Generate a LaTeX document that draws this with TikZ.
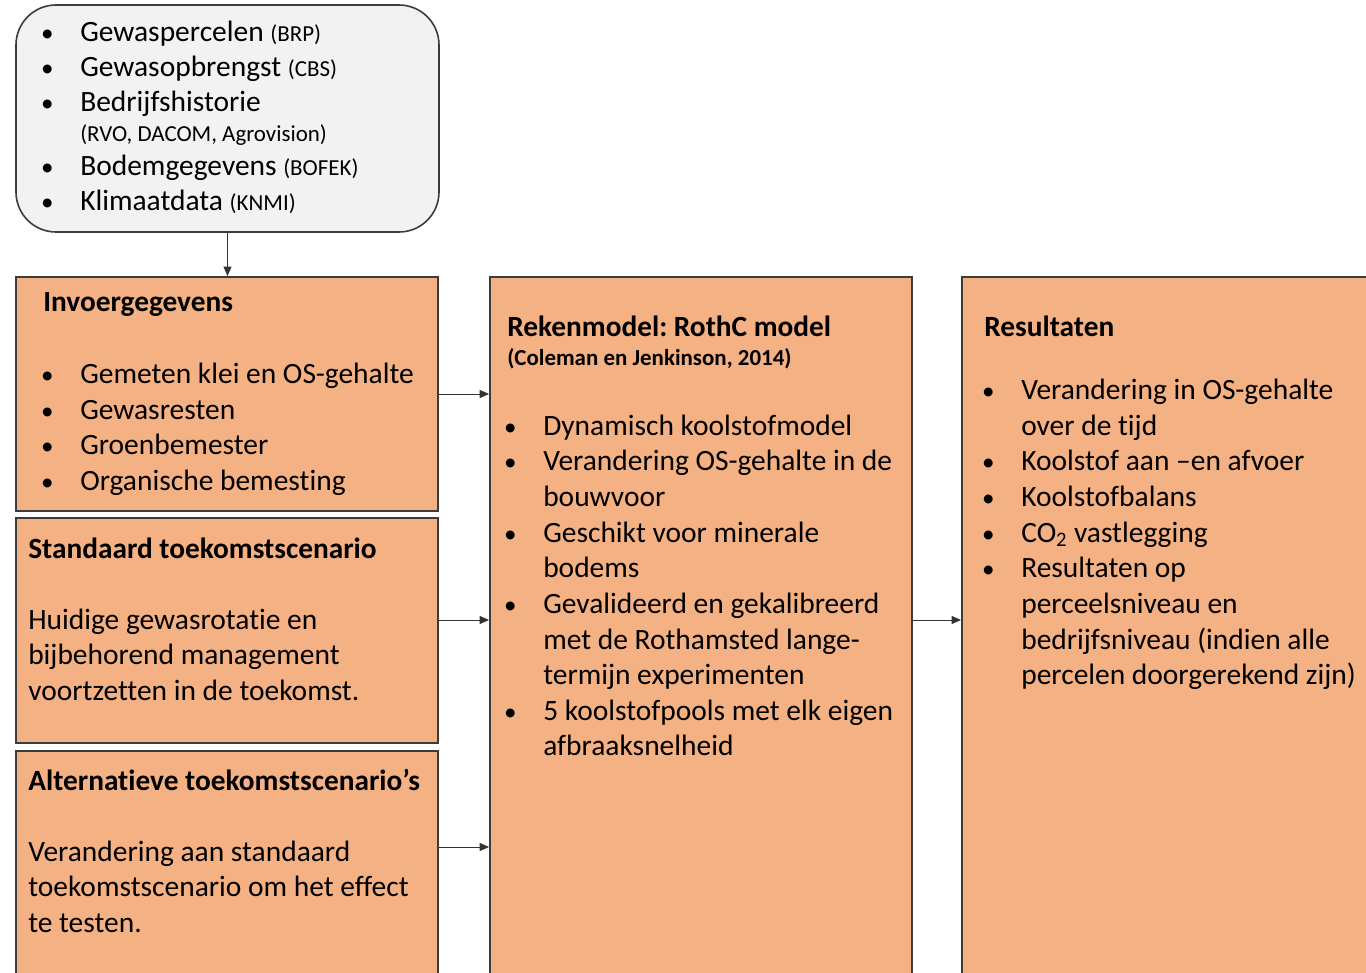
\documentclass[tikz,border=0pt]{standalone}
\usepackage{fontspec}
\setmainfont{Carlito}[Ligatures=NoCommon]
\usetikzlibrary{positioning,calc,fit,arrows.meta}
\definecolor{oranje}{HTML}{F4B183}
\definecolor{grijs}{HTML}{F2F2F2}
\definecolor{rand}{HTML}{3B3B3B}
\tikzstyle{vak}=[draw=rand, line width=1.5pt, fill=oranje, inner sep=0pt]
\tikzstyle{bron}=[vak, fill=grijs, rounded corners=30pt, line width=1.2pt]
\tikzstyle{txt}=[anchor=base west, inner sep=0pt, font=\fontsize{22.1}{26}\selectfont]
\tikzstyle{kop}=[anchor=base west, inner sep=0pt, font=\fontsize{22}{26}\selectfont\bfseries]
\tikzstyle{pijl}=[-{Triangle[length=7pt,width=6pt]}, line width=0.6pt, draw=black!80]
\newcommand{\bul}{\llap{\makebox[0pt]{\scalebox{0.85}{\textbullet}}\hspace{24.75pt}}}
\newcommand{\klein}[1]{{\fontsize{17.2}{20}\selectfont #1}}

\begin{document}
\frenchspacing
\begin{tikzpicture}[x=0.75pt,y=-0.75pt]
	\useasboundingbox (0,0) rectangle (1366,973);
	% vakken
	\node[bron, fit={(16,5) (439,232)}] (bron) {};
	\node[vak, fit={(16,277) (438,511)}] (invoer) {};
	\node[vak, fit={(16,518) (438,743)}] (standaard) {};
	\node[vak, fit={(16,751) (438,995)}] (alternatief) {};
	\node[vak, fit={(490,277) (912,995)}] (rekenmodel) {};
	\node[vak, fit={(962,277) (1385,995)}] (resultaten) {};
	% bronnen
	\node[txt] (b1) at (80,42) {\bul Gewaspercelen \klein{(BRP)}};
	\node[txt] (b2) at (80,77) {\bul Gewasopbrengst \klein{(CBS)}};
	\node[txt] (b3) at (80,112) {\bul Bedrijfshistorie};
	\node[txt] (b3b) at (80,142) {\klein{(RVO, DACOM, Agrovision)}};
	\node[txt] (b4) at (80,176) {\bul Bodemgegevens \klein{(BOFEK)}};
	\node[txt] (b5) at (80,211) {\bul Klimaatdata \klein{(KNMI)}};
	% invoer
	\node[kop] (i0) at (43,312) {Invoergegevens};
	\node[txt] (i1) at (80,383) {\bul Gemeten klei en OS-gehalte};
	\node[txt] (i2) at (80,419) {\bul Gewasresten};
	\node[txt] (i3) at (80,454) {\bul Groenbemester};
	\node[txt] (i4) at (80,490) {\bul Organische bemesting};
	% standaard scenario
	\node[kop] (s0) at (28,558) {Standaard toekomstscenario};
	\node[txt] (s1) at (28,629) {Huidige gewasrotatie en};
	\node[txt] (s2) at (28,664) {bijbehorend management};
	\node[txt] (s3) at (28,700) {voortzetten in de toekomst.};
	% alternatieve scenario's
	\node[kop] (a0) at (28,790) {Alternatieve toekomstscenario’s};
	\node[txt] (a1) at (28,861) {Verandering aan standaard};
	\node[txt] (a2) at (28,896) {toekomstscenario om het effect};
	\node[txt] (a3) at (28,932) {te testen.};
	% rekenmodel
	\node[kop] (r0) at (507,337) {Rekenmodel: RothC model};
	\node[kop, font=\fontsize{17.2}{20}\selectfont\bfseries] (r0b) at (507,365) {(Coleman en Jenkinson, 2014)};
	\node[txt] (r1) at (543,435) {\bul Dynamisch koolstofmodel};
	\node[txt] (r2) at (543,470) {\bul Verandering OS-gehalte in de};
	\node[txt] (r2b) at (543,506) {bouwvoor};
	\node[txt] (r3) at (543,542) {\bul Geschikt voor minerale};
	\node[txt] (r3b) at (543,577) {bodems};
	\node[txt] (r4) at (543,613) {\bul Gevalideerd en gekalibreerd};
	\node[txt] (r4b) at (543,649) {met de Rothamsted lange-};
	\node[txt] (r4c) at (543,684) {termijn experimenten};
	\node[txt] (r5) at (543,720) {\bul 5 koolstofpools met elk eigen};
	\node[txt] (r5b) at (543,755) {afbraaksnelheid};
	% resultaten
	\node[kop] (u0) at (984,337) {Resultaten};
	\node[txt] (u1) at (1021,399) {\bul Verandering in OS-gehalte};
	\node[txt] (u1b) at (1021,435) {over de tijd};
	\node[txt] (u2) at (1021,470) {\bul Koolstof aan –en afvoer};
	\node[txt] (u3) at (1021,506) {\bul Koolstofbalans};
	\node[txt] (u4) at (1021,542) {\bul CO\textsubscript{2} vastlegging};
	\node[txt] (u5) at (1021,577) {\bul Resultaten op};
	\node[txt] (u5b) at (1021,613) {perceelsniveau en};
	\node[txt] (u5c) at (1021,649) {bedrijfsniveau (indien alle};
	\node[txt] (u5d) at (1021,684) {percelen doorgerekend zijn)};
	% pijlen
	\coordinate (h1) at (0,620);
	\coordinate (h2) at (0,847);
	\draw[pijl] (bron.south) -- (bron.south |- invoer.north);
	\draw[pijl] (invoer.east) -- (invoer.east -| rekenmodel.west);
	\draw[pijl] (standaard.east |- h1) -- (rekenmodel.west |- h1);
	\draw[pijl] (alternatief.east |- h2) -- (rekenmodel.west |- h2);
	\draw[pijl] (rekenmodel.east |- h1) -- (resultaten.west |- h1);
\end{tikzpicture}
\end{document}
